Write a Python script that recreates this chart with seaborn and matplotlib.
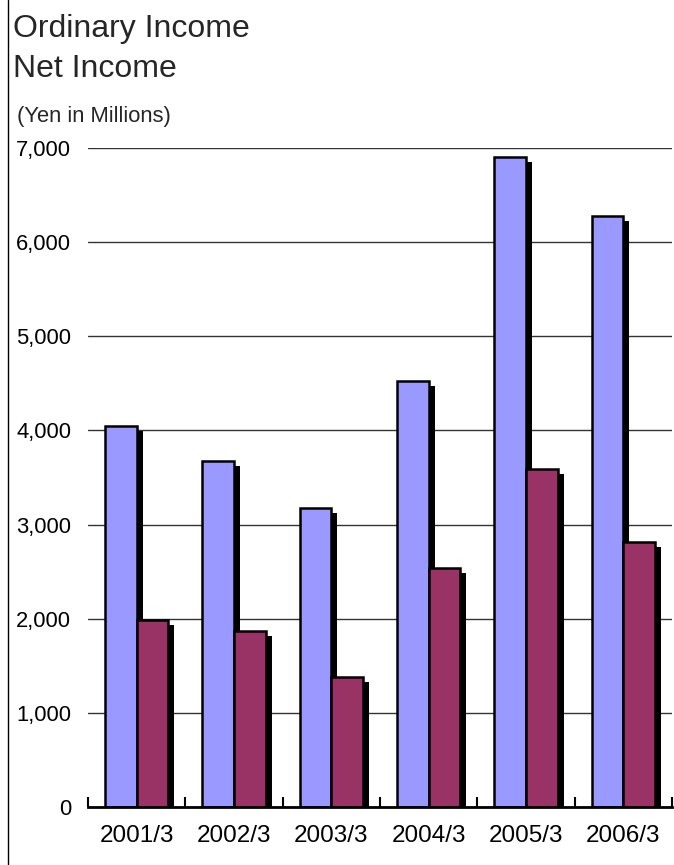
import matplotlib
matplotlib.use("Agg")
import matplotlib.pyplot as plt
import matplotlib.transforms as mtransforms
from matplotlib.lines import Line2D
from matplotlib.patches import Rectangle
from matplotlib.ticker import FuncFormatter, FixedLocator
import seaborn as sns
import pandas as pd

periods = ["2001/3", "2002/3", "2003/3", "2004/3", "2005/3", "2006/3"]
ordinary_income = [4050, 3680, 3180, 4530, 6900, 6280]
net_income = [1990, 1870, 1380, 2540, 3590, 2810]
series_names = ["Ordinary Income", "Net Income"]
colors = ["#9999FF", "#993366"]

df = pd.DataFrame({
    "period": periods * 2,
    "value": ordinary_income + net_income,
    "series": [series_names[0]] * len(periods) + [series_names[1]] * len(periods),
})

sns.set_theme(style="white")
plt.rcParams["font.family"] = ["Liberation Sans", "DejaVu Sans"]

W, H = 674, 865
fig = plt.figure(figsize=(W / 100, H / 100), dpi=100)
ax = fig.add_axes([88 / W, 1 - 807 / H, (672 - 88) / W, (807 - 148) / H])

sns.barplot(data=df, x="period", y="value", hue="series", hue_order=series_names,
            palette=colors, width=0.65, gap=0, edgecolor="black", linewidth=1.8,
            saturation=1, legend=False, ax=ax, zorder=3)

# drop shadows derived from the bars drawn by seaborn
offset = mtransforms.ScaledTranslation(6 / 100, -5 / 100, fig.dpi_scale_trans)
for p in list(ax.patches):
    r = Rectangle(p.get_xy(), p.get_width(), p.get_height(), facecolor="black",
                  edgecolor="none", transform=ax.transData + offset, zorder=2)
    ax.add_patch(r)

ax.set_ylim(0, 7000)
ax.set_xlim(-0.5, len(periods) - 0.5)
ax.set_yticks(range(0, 7001, 1000))
ax.yaxis.set_major_formatter(FuncFormatter(lambda v, _: f"{int(v):,}"))
ax.grid(axis="y", color="#333333", linewidth=1, zorder=0)
ax.set_axisbelow(True)
ax.tick_params(axis="y", length=0, pad=12, labelsize=15.8, labelcolor="black")
ax.tick_params(axis="x", which="major", length=0, pad=13, labelsize=17.5, labelcolor="black")
ax.xaxis.set_minor_locator(FixedLocator([i - 0.5 for i in range(len(periods) + 1)]))
ax.tick_params(axis="x", which="minor", direction="in", length=7, width=1.5, color="black", bottom=True)
ax.set_xlabel("")
ax.set_ylabel("")
for s in ["left", "right", "top"]:
    ax.spines[s].set_visible(False)
ax.spines["bottom"].set_color("black")
ax.spines["bottom"].set_linewidth(2)
ax.spines["bottom"].set_zorder(4)

fig.text(13 / W, 1 - 37 / H, "Ordinary Income", fontsize=23, va="baseline", ha="left")
fig.text(13 / W, 1 - 77 / H, "Net Income", fontsize=23, va="baseline", ha="left")
fig.text(17 / W, 1 - 122 / H, "(Yen in Millions)", fontsize=15.8, va="baseline", ha="left")

fig.add_artist(Line2D([7.5 / W, 7.5 / W], [0, 1], transform=fig.transFigure, color="black", linewidth=1))

fig.savefig("out.png", dpi=100)
